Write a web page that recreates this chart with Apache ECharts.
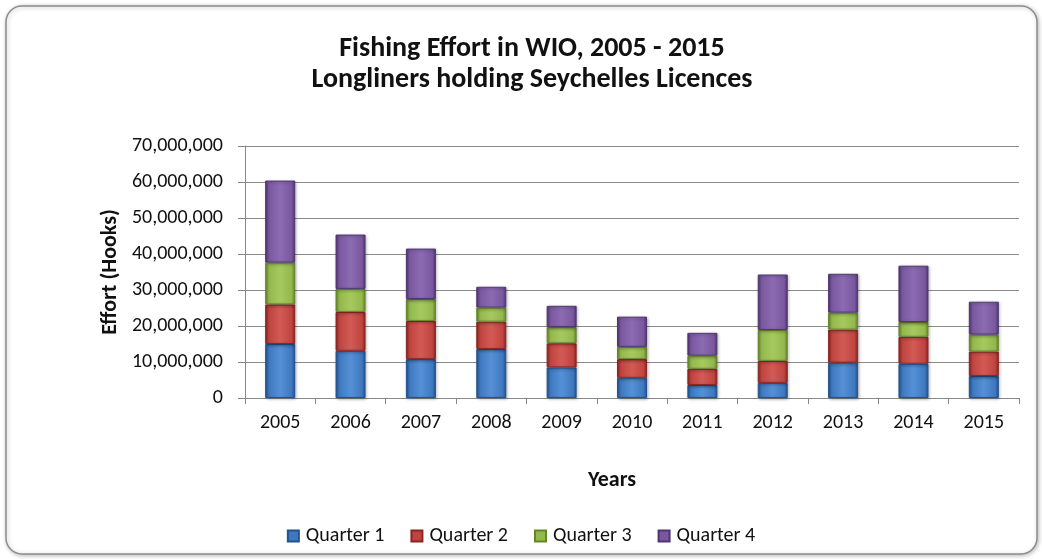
<!DOCTYPE html>
<html><head><meta charset="utf-8">
<script src="https://cdn.jsdelivr.net/npm/echarts@6/dist/echarts.min.js"></script>
<style>html,body{margin:0;padding:0;background:#fff}#c{width:1042px;height:559px}</style>
</head><body><div id="c"></div>
<script>
const years = ['2005','2006','2007','2008','2009','2010','2011','2012','2013','2014','2015'];
const quarter1 = [15000000, 13100000, 10800000, 13600000, 8500000, 5600000, 3600000, 4200000, 9800000, 9500000, 6100000];
const quarter2 = [11000000, 10800000, 10600000, 7600000, 6700000, 5200000, 4500000, 6100000, 9200000, 7500000, 6800000];
const quarter3 = [11600000, 6400000, 6100000, 3900000, 4500000, 3400000, 3650000, 8600000, 4700000, 4100000, 4700000];
const quarter4 = [22800000, 15100000, 14000000, 5800000, 5900000, 8400000, 6350000, 15400000, 10800000, 15650000, 9150000];
const seriesNames = ['Quarter 1','Quarter 2','Quarter 3','Quarter 4'];
const baseColors = [['#23538f','#3f78bf','#5590d6'],['#8a2522','#c0443f','#d25a55'],['#66852a','#93b84c','#a6c95f'],['#4f3672','#7a589f','#8b6bb2']];
const FONT = 'Carlito, Lato, "Open Sans", sans-serif';

function grad(c){
  return new echarts.graphic.LinearGradient(0,0,1,0,[
    {offset:0,color:c[0]},{offset:0.12,color:c[1]},{offset:0.5,color:c[2]},{offset:0.88,color:c[1]},{offset:1,color:c[0]}]);
}
const chart = echarts.init(document.getElementById('c'));
const dataArr = [quarter1,quarter2,quarter3,quarter4];
chart.setOption({
  backgroundColor:'#fff',
  animation:false,
  graphic:[{type:'rect',shape:{x:6,y:6,width:1031,height:548,r:16},style:{fill:'#fff',stroke:'#8c8c8c',lineWidth:1.5,shadowColor:'rgba(0,0,0,0.25)',shadowBlur:4,shadowOffsetX:1,shadowOffsetY:1},z:-10},
    {type:'text',x:612,y:480,style:{text:'Years',font:'bold 22px '+FONT,fill:'#111',textAlign:'center',textVerticalAlign:'middle'}}],
  title:{text:'Fishing Effort in WIO, 2005 - 2015\nLongliners holding Seychelles Licences',left:527,top:28,textAlign:'center',
    textStyle:{fontFamily:FONT,fontWeight:'bold',fontSize:28,lineHeight:31,color:'#111'}},
  legend:{data:seriesNames.map((n,i)=>({name:n,itemStyle:{color:baseColors[i][1]}})),top:521,left:'center',icon:'rect',itemWidth:11,itemHeight:11,itemGap:26,
    textStyle:{fontFamily:FONT,fontSize:20,color:'#111',padding:[0,0,0,2]}},
  grid:{left:245,right:23,top:146,bottom:161},
  xAxis:{type:'category',data:years,
    axisLine:{lineStyle:{color:'#888',width:1}},
    axisTick:{show:true,length:6,lineStyle:{color:'#888'}},
    axisLabel:{fontFamily:FONT,fontSize:20,color:'#111',margin:15}},
  yAxis:{type:'value',min:0,max:70000000,interval:10000000,
    name:'Effort (Hooks)',nameLocation:'middle',nameGap:124,nameRotate:90,
    nameTextStyle:{fontFamily:FONT,fontWeight:'bold',fontSize:22,color:'#111'},
    axisLine:{show:true,lineStyle:{color:'#888'}},
    axisTick:{show:true,length:7,lineStyle:{color:'#888'}},
    splitLine:{lineStyle:{color:'#8a8a8a',width:1}},
    axisLabel:{fontFamily:FONT,fontSize:20,color:'#111',margin:22,
      formatter:v=>v.toLocaleString('en-US')}},
  series:seriesNames.map((n,i)=>({name:n,type:'bar',stack:'total',data:dataArr[i],barWidth:30,
    itemStyle:{color:grad(baseColors[i]),borderColor:baseColors[i][0],borderWidth:1,shadowColor:'rgba(0,0,0,0.3)',shadowBlur:3,shadowOffsetX:1,shadowOffsetY:1}}))
});
</script></body></html>
